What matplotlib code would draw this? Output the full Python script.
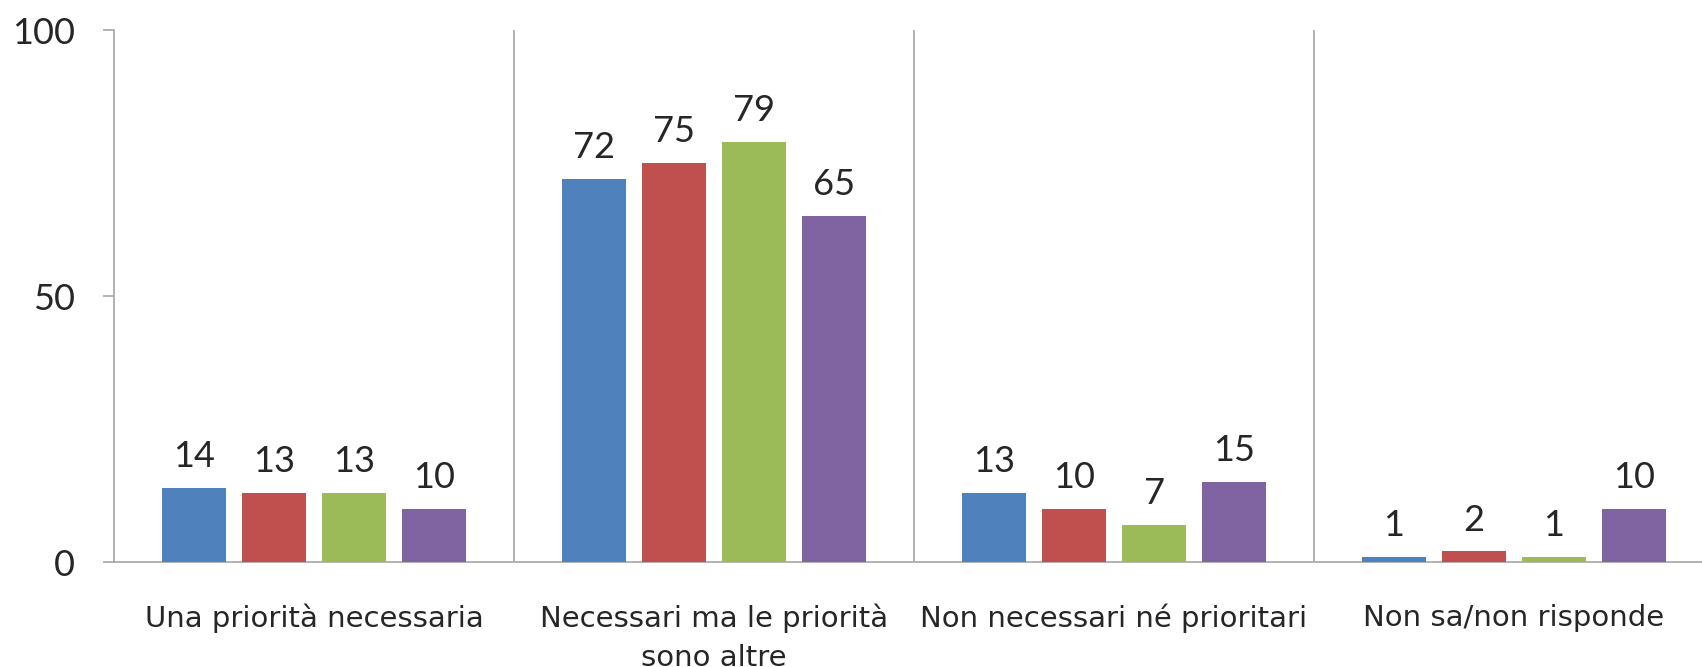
"""Grouped bar chart: opinion on priorities, four series per answer."""

import matplotlib
matplotlib.use("Agg")
import matplotlib.pyplot as plt
import numpy as np

categories = [
    "Una priorità necessaria",
    "Necessari ma le priorità\nsono altre",
    "Non necessari né prioritari",
    "Non sa/non risponde",
]
series_a = [14, 72, 13, 1]
series_b = [13, 75, 10, 2]
series_c = [13, 79, 7, 1]
series_d = [10, 65, 15, 10]
colors = ["#4F81BD", "#C0504D", "#9BBB59", "#8064A2"]

plt.rcParams["font.family"] = ["Lato", "DejaVu Sans"]

W, H = 1702, 667
fig = plt.figure(figsize=(W / 100, H / 100), dpi=100)
ax = fig.add_axes([114 / W, (H - 562) / H, 1 - 114 / W, (562 - 30) / H])

x = np.arange(len(categories))
step, width = 0.2, 0.16
for i, (vals, col) in enumerate(zip([series_a, series_b, series_c, series_d], colors)):
    pos = x + (i - 1.5) * step
    ax.bar(pos, vals, width=width, color=col, zorder=3)
    for px, v in zip(pos, vals):
        ax.annotate(str(v), (px, v), xytext=(0, 15), textcoords="offset points",
                    ha="center", va="baseline", fontsize=26, color="#262626")

# category separators
for b in x[:-1] + 0.5:
    ax.axvline(b, color="#A6A6A6", lw=1.2, zorder=1)

ax.set_xlim(-0.5, -0.5 + (W - 114) / 400)
ax.set_ylim(0, 100)
ax.set_yticks([0, 50, 100])
ax.tick_params(axis="y", length=8, width=1.2, color="#A6A6A6", pad=20,
               labelsize=26, labelcolor="#262626")
ax.set_xticks(x)
ax.set_xticklabels(categories, fontsize=21, color="#262626", linespacing=1.5,
                   family="DejaVu Sans")
ax.tick_params(axis="x", length=0, pad=30)

for side in ("top", "right"):
    ax.spines[side].set_visible(False)
for side in ("left", "bottom"):
    ax.spines[side].set_color("#A6A6A6")
    ax.spines[side].set_linewidth(1.2)

fig.savefig("out.png", dpi=100)
